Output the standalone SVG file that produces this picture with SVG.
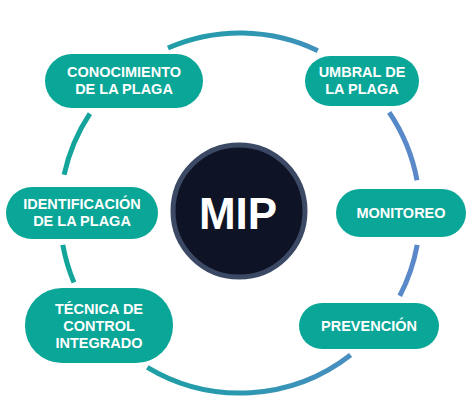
<svg xmlns="http://www.w3.org/2000/svg" width="474" height="418" viewBox="0 0 474 418">
<defs>
<linearGradient id="ring" gradientUnits="userSpaceOnUse" x1="70" y1="0" x2="410" y2="0">
<stop offset="0" stop-color="#12a59a"/>
<stop offset="0.5" stop-color="#2b98b0"/>
<stop offset="1" stop-color="#5a88c9"/>
</linearGradient>
<style>
.arc{fill:none;stroke:url(#ring);stroke-width:5;stroke-linecap:butt}
.pill{fill:#0aa697}
.lbl{font-family:"Liberation Sans",Arial,sans-serif;font-weight:bold;font-size:14.5px;fill:#ffffff;text-anchor:middle}
</style>
</defs>
<rect width="474" height="418" fill="#ffffff"/>
<g id="connectors">
<path class="arc" d="M167.95 48.05 A180 180 0 0 1 317.78 50.68"/>
<path class="arc" d="M389.2 112.3 A180 180 0 0 1 417.0 180.2"/>
<path class="arc" d="M417.2 244.9 A180 180 0 0 1 399.8 295.8"/>
<path class="arc" d="M350.6 355.0 A180 180 0 0 1 147.3 367.3"/>
<path class="arc" d="M73.95 282.5 A180 180 0 0 1 62.8 244.9"/>
<path class="arc" d="M64.1 174.7 A180 180 0 0 1 89.9 113.7"/>
</g>
<g id="mip">
<circle cx="239" cy="211" r="66" fill="#0e1426" stroke="#3c4964" stroke-width="5"/>
<text x="238" y="229" font-family="Liberation Sans, Arial, sans-serif" font-weight="bold" font-size="44" fill="#ffffff" text-anchor="middle">MIP</text>
</g>
<g id="conocimiento">
<rect class="pill" x="45" y="54" width="158" height="54" rx="27"/>
<text class="lbl" x="124" y="77">CONOCIMIENTO</text>
<text class="lbl" x="124" y="94">DE LA PLAGA</text>
</g>
<g id="umbral">
<rect class="pill" x="305" y="56" width="114" height="50" rx="25"/>
<text class="lbl" x="362" y="77">UMBRAL DE</text>
<text class="lbl" x="362" y="94">LA PLAGA</text>
</g>
<g id="identificacion">
<rect class="pill" x="6" y="187" width="152" height="52" rx="26"/>
<text class="lbl" x="82" y="209">IDENTIFICACIÓN</text>
<text class="lbl" x="82" y="226">DE LA PLAGA</text>
</g>
<g id="monitoreo">
<rect class="pill" x="336" y="189" width="130" height="48" rx="24"/>
<text class="lbl" x="401" y="218">MONITOREO</text>
</g>
<g id="tecnica">
<rect class="pill" x="25" y="288" width="148" height="75" rx="37"/>
<text class="lbl" x="99" y="314">TÉCNICA DE</text>
<text class="lbl" x="99" y="331">CONTROL</text>
<text class="lbl" x="99" y="348">INTEGRADO</text>
</g>
<g id="prevencion">
<rect class="pill" x="299" y="303" width="140" height="46" rx="23"/>
<text class="lbl" x="369" y="331">PREVENCIÓN</text>
</g>
</svg>
